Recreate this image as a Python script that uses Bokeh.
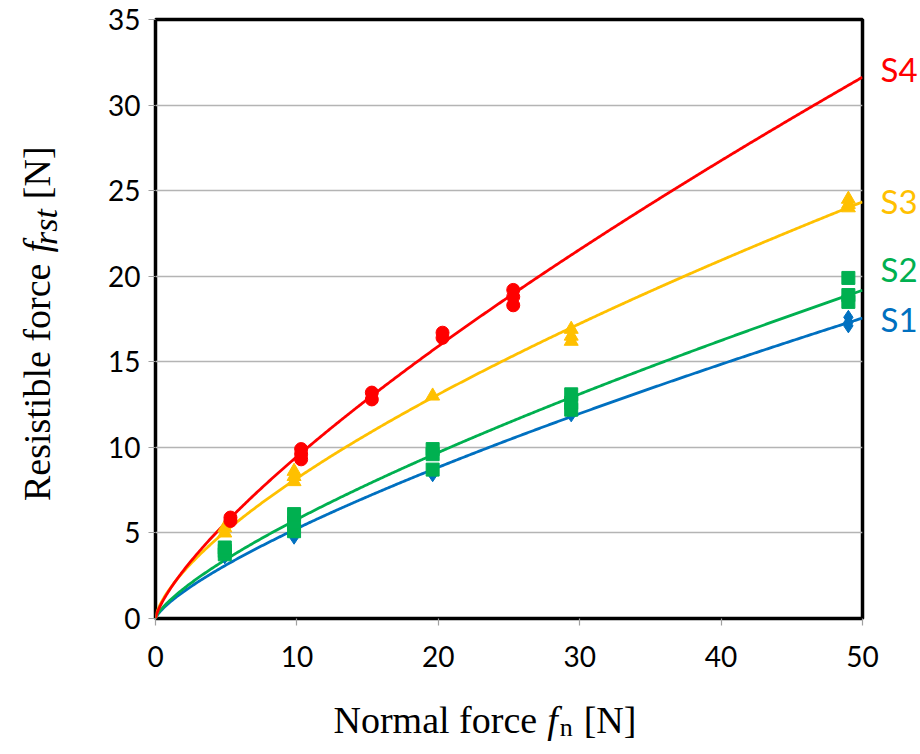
import numpy as np
from bokeh.plotting import figure
from bokeh.models import Range1d, FixedTicker
from bokeh.layouts import row, column
from bokeh.core.properties import value
from bokeh.embed import file_html
from bokeh.resources import INLINE

# ---------------- data ----------------
s1_x = [4.9, 4.9, 9.8, 9.8, 19.6, 19.6, 29.4, 49, 49, 49]
s1_y = [3.6, 3.7, 4.75, 4.95, 8.4, 8.6, 11.9, 17.1, 17.3, 17.6]
s2_x = [4.9, 4.9, 4.9, 9.8, 9.8, 9.8, 19.6, 19.6, 19.6, 29.4, 29.4, 29.4, 49, 49, 49]
s2_y = [3.75, 3.95, 4.15, 5.1, 5.6, 6.1, 8.7, 9.6, 9.9, 12.2, 12.6, 13.1, 18.5, 18.9, 19.9]
s3_x = [4.9, 4.9, 9.8, 9.8, 9.8, 19.6, 29.4, 29.4, 29.4, 49, 49, 49]
s3_y = [5.0, 5.3, 8.0, 8.3, 8.6, 13.0, 16.2, 16.5, 16.9, 24.0, 24.2, 24.5]
s4_x = [5.3, 5.3, 10.3, 10.3, 10.3, 15.3, 15.3, 20.3, 20.3, 25.3, 25.3, 25.3]
s4_y = [5.7, 5.9, 9.3, 9.6, 9.9, 12.8, 13.2, 16.4, 16.7, 18.3, 18.8, 19.2]

series_names = ["S1", "S2", "S3", "S4"]
label_y = [17.5, 20.45, 24.4, 32.1]
x_ticks = [0, 10, 20, 30, 40, 50]
y_ticks = [0, 5, 10, 15, 20, 25, 30, 35]

colors = ["#0070C0", "#00B050", "#FFC000", "#FF0000"]
markers = ["diamond", "square", "triangle", "circle"]
msizes = [14, 13, 14, 13]
xs = [s1_x, s2_x, s3_x, s4_x]
ys = [s1_y, s2_y, s3_y, s4_y]

TOP, BOT = 19, 70          # frame top / bottom border inside the upper row
ROW_H = 688
LEFT_W = 70
MAIN_W = 809               # 85 + 707 + 17
RIGHT_W = 920 - LEFT_W - MAIN_W
XT_H = 754 - ROW_H

yr = Range1d(0, 35)
p = figure(width=MAIN_W, height=ROW_H, x_range=Range1d(0, 50), y_range=yr,
           output_backend="svg", toolbar_location=None,
           min_border_left=85, min_border_right=17, min_border_top=TOP, min_border_bottom=BOT)
p.background_fill_color = "white"
p.border_fill_color = "white"
p.outline_line_color = "black"
p.outline_line_width = 3.5
p.xgrid.grid_line_color = None
p.ygrid.grid_line_color = "#b4b4b4"
p.ygrid.grid_line_width = 1.3

for ax in (p.xaxis[0], p.yaxis[0]):
    ax.axis_line_color = None
    ax.major_tick_in = 0
    ax.major_tick_out = 7
    ax.major_tick_line_color = "#a0a0a0"
    ax.major_tick_line_width = 1.2
    ax.minor_tick_line_color = None
    ax.major_label_text_font = "Lato"
    ax.major_label_text_font_size = "28px"
    ax.major_label_text_color = "black"
p.xaxis[0].ticker = FixedTicker(ticks=x_ticks)
p.yaxis[0].ticker = FixedTicker(ticks=y_ticks)
p.xaxis[0].major_label_standoff = 20
p.yaxis[0].major_label_standoff = 8


def power_fit(x, y):
    """least-squares fit of y = a * x**b (in linear space)"""
    x = np.asarray(x, float)
    y = np.asarray(y, float)
    best = None
    for b in np.linspace(0.3, 1.2, 9001):
        xb = x ** b
        a = np.sum(y * xb) / np.sum(xb * xb)
        sse = np.sum((y - a * xb) ** 2)
        if best is None or sse < best[0]:
            best = (sse, a, b)
    return best[1], best[2]


xf = np.linspace(0.0, 50.0, 500)
for x, y, c in zip(xs, ys, colors):
    a, b = power_fit(x, y)
    p.line(xf, a * xf ** b, line_color=c, line_width=2.8)

for x, y, c, m, s in zip(xs, ys, colors, markers, msizes):
    p.scatter(x, y, marker=m, size=s, fill_color=c, line_color=c)

# ---------------- series names on the right (shares the y scale) ----------------
sr = figure(width=RIGHT_W, height=ROW_H, x_range=Range1d(0, RIGHT_W), y_range=yr,
            output_backend="svg", toolbar_location=None, x_axis_location=None, y_axis_location=None,
            min_border_left=0, min_border_right=0, min_border_top=TOP, min_border_bottom=BOT)
sr.outline_line_color = None
sr.grid.grid_line_color = None
sr.text(x=[1] * 4, y=label_y, text=series_names, text_color=colors,
        text_font=value("Lato"), text_font_size=value("33px"),
        text_baseline="middle", text_align="left")

# ---------------- axis titles (mixed fonts) ----------------
ROMAN = {' ': 250, 'N': 722, 'o': 500, 'r': 333, 'm': 778, 'a': 444, 'l': 278, 'f': 333,
         'c': 444, 'e': 444, '[': 333, ']': 333, 'R': 667, 's': 389, 'i': 278, 't': 278,
         'b': 500, 'n': 500}
ITALIC = {'f': 278, 'r': 389, 's': 389, 't': 278, 'n': 500}


def tw(text, size, table):
    return sum(table[ch] for ch in text) * size / 1000.0


SERIF = "Liberation Serif"


def blank(w, h):
    f = figure(width=w, height=h, x_range=Range1d(0, w), y_range=Range1d(0, h),
               output_backend="svg", toolbar_location=None, x_axis_location=None,
               y_axis_location=None, min_border=0)
    f.outline_line_color = None
    f.grid.grid_line_color = None
    return f


# y title (rotated, each piece centred on its own slot)
yl = blank(LEFT_W, ROW_H)
fs = 38
pieces = [("Resistible force", fs, "normal", 49, ROMAN, 4),
          ("f", fs, "italic", 49, ITALIC, 3),
          ("rst", 34, "italic", 56, ITALIC, 20),
          ("[N]", fs, "normal", 49, ROMAN, 0)]
start = 507.0          # page y where the title begins (it runs upwards)
for t, s, st, base_x, tab, gap in pieces:
    w = tw(t, s, tab)
    centre = start - w / 2.0 + 0.12 * w   # small correction for rotated placement
    yl.text(x=[base_x - 0.3375 * s], y=[ROW_H - centre], text=[t], angle=np.pi / 2,
            text_font=value(SERIF), text_font_size=value(f"{s}px"), text_font_style=value(st),
            text_align="center", text_baseline="middle", text_color="black")
    start -= w + gap

# x title
xl = blank(920, XT_H)
fs = 38
pieces = [("Normal force", fs, "normal", 0, ROMAN, 10),
          ("f", fs, "italic", 0, ITALIC, 2),
          ("n", 26, "normal", -8, ROMAN, 11),
          ("[N]", fs, "normal", 0, ROMAN, 0)]
cx = 333
base = 754 - (733 - 0.36 * fs)
for t, s, st, dy, tab, gap in pieces:
    xl.text(x=[cx], y=[base + dy], text=[t], text_font=value(SERIF),
            text_font_size=value(f"{s}px"), text_font_style=value(st),
            text_align="left", text_baseline="alphabetic", text_color="black")
    cx += tw(t, s, tab) + gap

layout = column(row(yl, p, sr, spacing=0), xl, spacing=0)
open("out.html", "w").write(file_html(layout, INLINE))
